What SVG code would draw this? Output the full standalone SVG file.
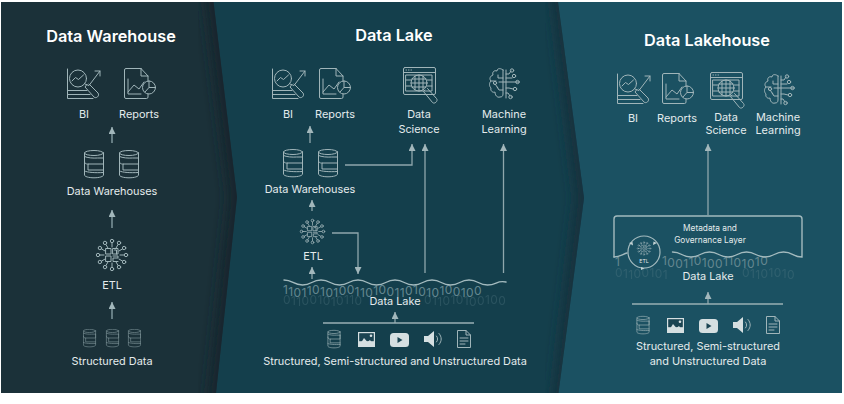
<svg xmlns="http://www.w3.org/2000/svg" width="844" height="404" viewBox="0 0 844 404">
<style>
text{font-family:"Inter","Liberation Sans",sans-serif;fill:#e4ebec;text-anchor:middle}
.t{font-size:16.300px;font-weight:600;fill:#fff}
.l{font-size:10.900px}
.i{fill:none;stroke:#a0b5b9;stroke-width:1;stroke-linecap:round;stroke-linejoin:round}
.f{fill:#d5dfe1;stroke:none}
.c{fill:none;stroke:#8fa7ac;stroke-width:1.300}
.bar{fill:none;stroke:#9ab0b4;stroke-width:1.600}
.w{fill:none;stroke:#a3babe;stroke-width:1.400;stroke-linecap:round}
.b{font-size:12px;text-anchor:start;fill:#648790}
.r{opacity:.28}
.dim{opacity:.72}
</style>
<defs>
<marker id="ah" viewBox="0 0 7 7" refX="7" refY="3.500" markerWidth="7" markerHeight="7" markerUnits="userSpaceOnUse" orient="auto"><path d="M0 0L7 3.500L0 7Z" fill="#a2b7bb"/></marker>
<filter id="bl" x="-50%" y="-10%" width="200%" height="120%"><feGaussianBlur stdDeviation="6"/></filter>
<clipPath id="cp1"><path d="M1 2H213.500L237 197L216 393H1Z"/></clipPath>
<clipPath id="cp2"><path d="M200 2H558L584 198L558.500 393H200Z"/></clipPath>
<symbol id="bi" viewBox="0 0 34 30" width="34" height="30" overflow="visible"><g class="i"><path d="M.5 0V29.500H26M.5 21.500H20M.5 25.500H23"/><circle cx="11" cy="9.500" r="8.500"/><path d="M5 12l3.500-3.500 3 2 5-4.500M18 15l4 1.500 11-14.500M28 2h5v5M19.500 16l-1.500 2 9 10c2 2 6-1 4-4l-9-9"/></g></symbol>
<symbol id="rp" viewBox="0 0 32 31" width="32" height="31" overflow="visible"><g class="i"><path d="M17 .5H2Q.5 .5 .5 2V29Q.5 30.500 2 30.500H22.500Q24 30.500 24 29V26M17 .5L24 8V13M17 .5V8H24M4 11V26H17M4 24l6-7 5 4 5-7"/><circle cx="25" cy="19.500" r="6.500"/><path d="M25 13V19.500H31.500M25 19.500L21 24"/></g></symbol>
<symbol id="ds" viewBox="0 0 36 38" width="36" height="38" overflow="visible"><g class="i"><rect x=".5" y=".5" width="32" height="27" rx="1.500"/><path d="M.5 5.500H32.500M3 3H3.500M5.500 3H6M8 3H8.500M3 8H29V24H3ZM3 13H8M3 19H8M24 13H29M24 19H29"/><circle cx="16" cy="16" r="8"/><path d="M8 16H24M16 8V24M12 9V23M20 9V23M8.800 12H23M8.800 20H23"/><path d="M22 23l-1.500 1.500 9 11c2 2 6-1.500 4-4l-9-10"/></g></symbol>
<symbol id="ml" viewBox="0 0 30 32" width="30" height="32" overflow="visible"><g class="i"><path d="M14 2c-2-2-6-2-6 1-3-1-5 1-4 4-3 1-4 4-2 6-2 2-2 5 0 7-1 3 2 5 4 4 0 3 2 6 5 5 2 0 3-1 3-3V2ZM14 10H9V7M14 22h-4l-2-3M1.500 13H7M6 16l3 4M10 14h19"/><circle cx="6" cy="15" r="1.600"/><path d="M17 2V30M17 6h3l2-3M17 10h3l3 0M17 20h3l4 1M17 25h2l2 3"/><circle cx="23" cy="2.500" r="1.700"/><circle cx="25" cy="8" r="1.700"/><circle cx="28.500" cy="14" r="1.700"/><circle cx="26" cy="21" r="1.700"/><circle cx="21.500" cy="29" r="1.700"/></g></symbol>
<symbol id="db" viewBox="0 0 20 28" width="20" height="28" overflow="visible"><g class="i"><ellipse cx="10" cy="3" rx="9.500" ry="2.500"/><path d="M.5 3V25c0 1.500 4 2.800 9.500 2.800s9.500-1.300 9.500-2.800V3M.5 6.500c3 1.500 9 1.800 13 1.500H19.500M19.500 8V14H4V20H19.500M.5 11c0 3 1.500 3 3.500 3M.5 21c3 1.500 11 2 19 1.500"/></g></symbol>
<symbol id="etl" viewBox="0 0 32 34" width="32" height="34" overflow="visible"><g class="i"><path d="M24 17H28M22.900 13L26.400 11M20 10.100L22 6.600M16 9V5M12 10.100L10 6.600M9.100 13L5.600 11M8 17H4M9.100 21L5.600 23M12 23.900L10 27.400M16 25V29M20 23.900L22 27.400M22.900 21L26.400 23"/><circle cx="30" cy="17" r="1.700"/><circle cx="28.100" cy="10" r="1.700"/><circle cx="23" cy="4.900" r="1.700"/><circle cx="16" cy="3" r="1.700"/><circle cx="9" cy="4.900" r="1.700"/><circle cx="3.900" cy="10" r="1.700"/><circle cx="2" cy="17" r="1.700"/><circle cx="3.900" cy="24" r="1.700"/><circle cx="9" cy="29.100" r="1.700"/><circle cx="16" cy="31" r="1.700"/><circle cx="23" cy="29.100" r="1.700"/><circle cx="28.100" cy="24" r="1.700"/><rect x="10" y="10.500" width="5" height="5.500"/><rect x="17" y="10.500" width="5" height="5.500"/><rect x="10" y="18" width="5" height="5.500"/><path d="M17 18H22V20H17V23.500H22M18.500 12H20.500V16"/></g></symbol>
<symbol id="im" viewBox="0 0 17 15" width="17" height="15"><rect width="17" height="15" class="f"/><rect x="1.200" y="1.200" width="14.600" height="8" fill="#1b4452"/><path d="M1 14L6 6L9.500 10L12 8L16 14Z" class="f"/><circle cx="13" cy="3.800" r="1.300" class="f"/></symbol>
<symbol id="yt" viewBox="0 0 19 14" width="19" height="14"><rect width="19" height="14" rx="3.500" class="f"/><path d="M7.500 4L12.500 7L7.500 10Z" fill="#1b4452"/></symbol>
<symbol id="sp" viewBox="0 0 18 16" width="18" height="16" overflow="visible"><path d="M0 5H4L10 0V16L4 11H0Z" class="f"/><path class="i" d="M12.500 5C14 6.500 14 9.500 12.500 11M15 2.500C18 6 18 10 15 13.500"/></symbol>
<symbol id="dc" viewBox="0 0 14 18" width="14" height="18"><path class="i" d="M9 .5H.5V17.500H13.500V5L9 .5V5H13.500M3 8H11M3 11H11M3 14H8"/></symbol>
</defs>
<rect width="844" height="404" fill="#fff"/>
<g id="panels">
<rect x="1" y="2" width="841" height="391" fill="#1b5162"/>
<path d="M200 2H558L584 198L558.500 393H200Z" fill="#143f4c"/>
<g clip-path="url(#cp2)"><path d="M558 -20L584 198L558.500 420" fill="none" stroke="#17323c" stroke-width="18" filter="url(#bl)"/></g>
<path d="M1 2H213.500L237 197L216 393H1Z" fill="#1b3139"/>
<g clip-path="url(#cp1)"><path d="M211 -20L237 197L214 420" fill="none" stroke="#15272e" stroke-width="18" filter="url(#bl)"/></g>
</g>
<g id="connectors">
<path class="c" marker-end="url(#ah)" d="M112 143V127"/>
<path class="c" marker-end="url(#ah)" d="M112 228V210"/>
<path class="c" marker-end="url(#ah)" d="M112 319V302"/>
<path class="c" marker-end="url(#ah)" d="M310 143V126"/>
<path class="c" marker-end="url(#ah)" d="M312 211V200"/>
<path class="c" marker-end="url(#ah)" d="M345 165H412V144"/>
<path class="c" marker-end="url(#ah)" d="M425 273V144"/>
<path class="c" marker-end="url(#ah)" d="M503.500 273V144"/>
<path class="c" marker-end="url(#ah)" d="M332 233H358V274"/>
<path class="c" marker-end="url(#ah)" d="M312 279V267"/>
<path class="c" marker-end="url(#ah)" d="M395 323V312"/>
<path class="c" marker-end="url(#ah)" d="M708 215V144"/>
<path class="c" marker-end="url(#ah)" d="M708 304V292"/>
</g>
<g id="wh-title"><text class="t" x="111" y="42">Data Warehouse</text></g>
<g id="wh-bi"><use href="#bi" x="67" y="69"/><text class="l" x="84" y="118">BI</text></g>
<g id="wh-reports"><use href="#rp" x="124" y="68"/><text class="l" x="139" y="118">Reports</text></g>
<g id="wh-warehouses"><use href="#db" x="84" y="150"/><use href="#db" x="119" y="150"/><text class="l" x="112" y="195">Data Warehouses</text></g>
<g id="wh-etl"><use href="#etl" x="96" y="238"/><text class="l" x="112" y="289">ETL</text></g>
<g id="wh-structured"><g class="dim"><use href="#db" x="82" y="329" width="15" height="18"/><use href="#db" x="105" y="329" width="15" height="18"/><use href="#db" x="127" y="329" width="15" height="18"/></g><text class="l" x="112" y="365">Structured Data</text></g>
<g id="dl-title"><text class="t" x="394" y="41">Data Lake</text></g>
<g id="dl-bi"><use href="#bi" x="272" y="69"/><text class="l" x="288" y="118">BI</text></g>
<g id="dl-reports"><use href="#rp" x="319" y="68"/><text class="l" x="335" y="118">Reports</text></g>
<g id="dl-science"><use href="#ds" x="403" y="67"/><text class="l" x="419" y="118">Data</text><text class="l" x="419" y="133">Science</text></g>
<g id="dl-ml"><use href="#ml" x="489" y="68"/><text class="l" x="504" y="118">Machine</text><text class="l" x="504" y="133">Learning</text></g>
<g id="dl-warehouses"><use href="#db" x="283" y="149"/><use href="#db" x="318" y="149"/><text class="l" x="310" y="193">Data Warehouses</text></g>
<g id="dl-etl"><use href="#etl" x="300" y="218" width="25" height="27"/><text class="l" x="313" y="260">ETL</text></g>
<g id="dl-lake">
<text class="b r" x="283" y="304" letter-spacing=".4" dy="0 1 1 -1 -1 0 1 1 -1 -1 0 1">011001010110</text>
<text class="b r" x="424" y="304" letter-spacing=".4" dy="0 1 1 -1 -1 0 1 1 -1 -1 0 1">011010100100</text>
<text class="b" x="283" y="295" letter-spacing=".4" dy="-1 2 1 0 -2 -1 2 1 0 -2 -1 2 1 0 -2 -1 2 1 0 -2 -1 2 1 0 -2 -1 2 1 0 -2">110110101001101001101010100100</text>
<path class="w" d="M284 280c9 0 9 5 18.500 5s9-5 18.500-5 9 5 18.500 5 9-5 18.500-5 9 5 18.500 5 9-5 18.500-5 9 5 18.500 5 9-5 18.500-5 9 5 18.500 5 9-5 18.500-5 9 5 18.500 5 9-5 18.500-3"/>
<text class="l" x="395" y="305">Data Lake</text>
</g>
<g id="dl-sources"><path class="bar" d="M323 323H474"/><use href="#db" x="327" y="330" width="14" height="18"/><use href="#im" x="358" y="332"/><use href="#yt" x="390" y="333"/><use href="#sp" x="424" y="331"/><use href="#dc" x="457" y="330"/><text class="l" x="395" y="365">Structured, Semi-structured and Unstructured Data</text></g>
<g id="lh-title"><text class="t" x="707" y="46">Data Lakehouse</text></g>
<g id="lh-bi"><use href="#bi" x="617" y="74"/><text class="l" x="633" y="122">BI</text></g>
<g id="lh-reports"><use href="#rp" x="662" y="73"/><text class="l" x="677" y="122">Reports</text></g>
<g id="lh-science"><use href="#ds" x="710" y="72"/><text class="l" x="726" y="121">Data</text><text class="l" x="726" y="134">Science</text></g>
<g id="lh-ml"><use href="#ml" x="764" y="74"/><text class="l" x="778" y="121">Machine</text><text class="l" x="778" y="134">Learning</text></g>
<g id="lh-layer">
<text class="b r" x="615" y="277" letter-spacing=".4" dy="0 1 1 -1 -1 0 1 1">01100101</text>
<text class="b r" x="742" y="277" letter-spacing=".4" dy="0 1 1 -1 -1 0 1 1">01101010</text>
<text class="b" x="615" y="266" letter-spacing=".4">1</text>
<text class="b" x="662" y="266" letter-spacing=".4" dy="-1 2 1 0 -2 -1 2 1 0 -2 -1 2 1 0 -2 -1 2 1 0">1001101001101010</text>
<path class="w" d="M614 257V219q0-3 3-3H799q3 0 3 3V257c-9 0-9-5-18.500-5s-9 5-18.500 5-9-5-18.500-5-9 5-18.500 5-9-5-18.500-5-9 5-18.500 5-9-5-18.500-5"/>
<path class="w" d="M614 257c6 0 9-3 13-4"/>
<circle cx="644" cy="252" r="16" fill="#1b5162" stroke="#a3babe" stroke-width="1.200"/>
<path d="M629 243l3.500-1 .5 3.500ZM657 243l-3.500-1.500-.5 3.500ZM641 267l3.500 1.500-3.500 1.500Z" fill="#c3d2d4"/>
<use href="#etl" x="637" y="241" width="14" height="15"/>
<text x="644" y="263" font-size="5.200">ETL</text>
<text x="710" y="231" font-size="8.300">Metadata and</text>
<text x="710" y="243" font-size="8.300">Governance Layer</text>
<text class="l" x="708" y="280">Data Lake</text>
</g>
<g id="lh-sources"><path class="bar" d="M632 304H783"/><use href="#db" x="636" y="316" width="14" height="18"/><use href="#im" x="667" y="318"/><use href="#yt" x="699" y="319"/><use href="#sp" x="733" y="317"/><use href="#dc" x="766" y="316"/><text class="l" x="708" y="350">Structured, Semi-structured</text><text class="l" x="708" y="365">and Unstructured Data</text></g>
</svg>
